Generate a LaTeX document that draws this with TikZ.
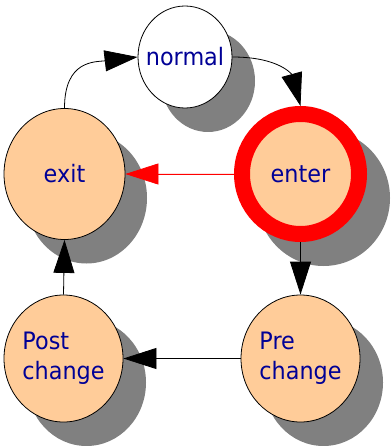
\documentclass[tikz,border=0pt]{standalone}
\usepackage{fontspec}
\newfontfamily\lblfont[FakeStretch=0.93]{DejaVu Sans}
\usetikzlibrary{arrows.meta,shapes.geometric}
\definecolor{peach}{RGB}{255,204,153}
\definecolor{lblblue}{RGB}{0,0,150}
\definecolor{shade}{RGB}{128,128,128}
\tikzset{
  state/.style={ellipse, draw=black, line width=0.8pt, fill=peach, inner sep=0pt},
  statetext/.style={inner sep=0pt, font=\lblfont\fontsize{24}{30}\selectfont,
    text=lblblue, align=left},
  shadowfill/.style={fill=shade},
  flow/.style={line width=0.8pt, -{Triangle[length=33pt,width=21pt]}},
}
\begin{document}
\begin{tikzpicture}[x=1pt,y=-1pt]
\useasboundingbox (0,0) rectangle (391,446);

% drop shadows
\fill[shadowfill] (208,81) ellipse [x radius=47, y radius=51];
\fill[shadowfill] (86.5,198) ellipse [x radius=60.5, y radius=65.5];
\fill[shadowfill] (323.5,198) ellipse [x radius=66.5, y radius=68];
\fill[shadowfill] (323.5,382.5) ellipse [x radius=59.5, y radius=63.5];
\fill[shadowfill] (86.5,382.5) ellipse [x radius=59.5, y radius=63.5];

% states
\node[state, fill=white, minimum width=94pt, minimum height=102pt] (normal) at (185,57) {};
\node[state, minimum width=121pt, minimum height=131pt] (exit) at (64.5,174) {};
\node[state, draw=red, line width=16pt, minimum width=117pt, minimum height=120pt] (enter) at (300.5,174) {};
\node[state, minimum width=119pt, minimum height=127pt] (pre) at (300.5,358.5) {};
\node[state, minimum width=119pt, minimum height=127pt] (post) at (63.5,358.5) {};

% state names
\node[statetext] (normal-name) at (normal) {normal};
\node[statetext] (exit-name) at (exit) {exit};
\node[statetext] (enter-name) at (enter) {enter};
\node[statetext] (pre-name) at (pre) {Pre\\change};
\node[statetext] (post-name) at (post) {Post\\change};

% transitions
\draw[flow] (exit.north) .. controls (64.5,60) and (95,62) .. (normal.west);
\draw[flow] (normal.east) .. controls (280,57) and (292,75) .. (enter.north);
\draw[flow, draw=red, fill=red] (enter.west) -- (exit.east);
\draw[flow] (enter.south) -- (pre.north);
\draw[flow] (pre.west) -- (post.east);
\draw[flow] (post.north) -- (exit.south);
\end{tikzpicture}
\end{document}
